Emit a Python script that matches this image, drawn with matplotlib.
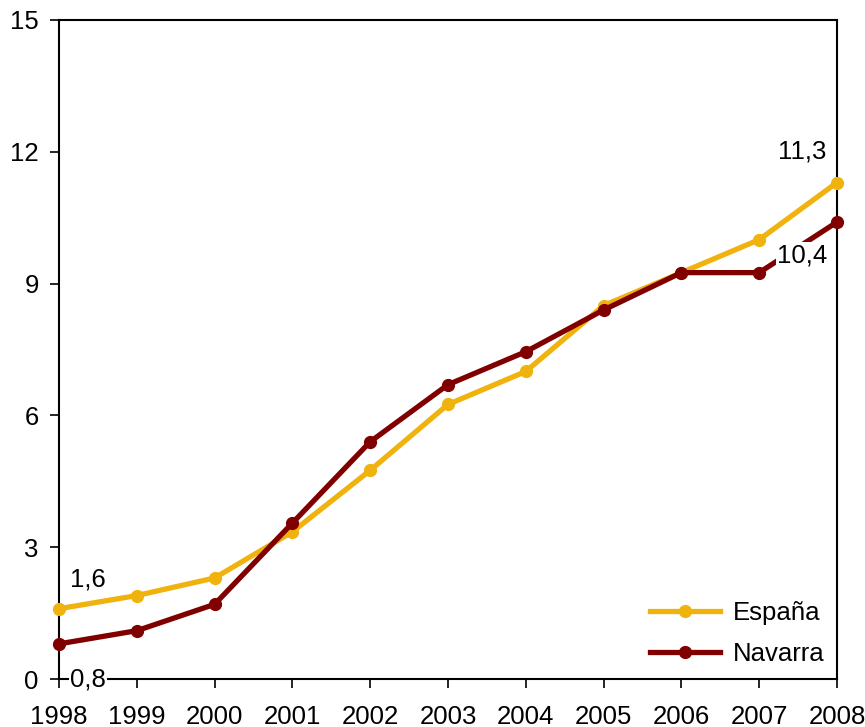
import matplotlib.pyplot as plt

plt.rcParams['font.family'] = ['Liberation Sans', 'DejaVu Sans']

years = [1998, 1999, 2000, 2001, 2002, 2003, 2004, 2005, 2006, 2007, 2008]
espana = [1.6, 1.9, 2.3, 3.35, 4.75, 6.25, 7.0, 8.5, 9.25, 10.0, 11.3]
navarra = [0.8, 1.1, 1.7, 3.55, 5.4, 6.7, 7.45, 8.4, 9.25, 9.25, 10.4]
yticks = [0, 3, 6, 9, 12, 15]

# (text, x, y, offset in points)
labels = [("1,6", 1998, 1.6, (21, 21)),
          ("0,8", 1998, 0.8, (21, -26)),
          ("11,3", 2008, 11.3, (-25, 22)),
          ("10,4", 2008, 10.4, (-25, -24))]

FS = 18.5


def main():
    fig = plt.figure(figsize=(8.65, 7.27), dpi=100)
    ax = fig.add_axes([0.0682, 0.066, 0.8994, 0.9065])

    ax.plot(years, espana, color='#F0B30E', lw=3.8, marker='o', ms=8.5,
            label='España', clip_on=False, zorder=3)
    ax.plot(years, navarra, color='#800000', lw=3.8, marker='o', ms=8.5,
            label='Navarra', clip_on=False, zorder=3)

    for txt, x, y, off in labels:
        ax.annotate(txt, (x, y), xytext=off, textcoords='offset points',
                    ha='center', va='center', fontsize=FS, zorder=6,
                    bbox=dict(facecolor='white', edgecolor='none', pad=1))

    ax.set_xlim(1998, 2008)
    ax.set_ylim(0, 15)
    ax.set_xticks(years)
    ax.set_yticks(yticks)
    ax.tick_params(labelsize=FS, direction='out', length=6.5, width=1.2,
                   colors='black', pad=8)
    ax.tick_params(axis='x', pad=12)
    for s in ax.spines.values():
        s.set_linewidth(1.5)

    ax.legend(loc='lower right', frameon=False, fontsize=FS, handlelength=2.7,
              handletextpad=0.5, labelspacing=0.65, borderaxespad=0.1)
    fig.savefig("out.png", dpi=100)


if __name__ == "__main__":
    main()
